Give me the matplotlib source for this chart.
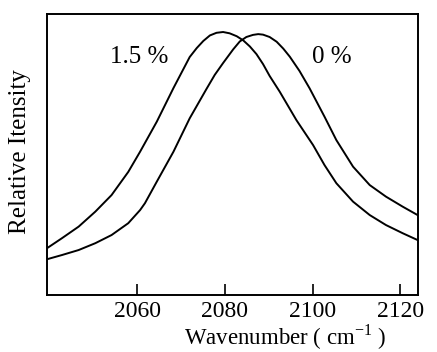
import matplotlib
matplotlib.use("Agg")
import matplotlib.pyplot as plt

# values (intensity in arbitrary units, 1.5 % peak = 1)
wn_15 = [2039.5, 2042.9, 2046.7, 2050.5, 2054.2, 2058.0, 2060.7, 2064.5, 2068.3,
         2072.0, 2073.6, 2075.1, 2076.6, 2078.1, 2079.6, 2081.1, 2082.7, 2084.2,
         2085.7, 2087.2, 2088.7, 2090.2, 2092.5, 2096.3, 2100.1, 2102.7, 2105.4,
         2109.2, 2113.0, 2116.7, 2120.5, 2123.9]
int_15 = [0.178, 0.216, 0.260, 0.317, 0.380, 0.468, 0.545, 0.659, 0.787,
          0.905, 0.939, 0.966, 0.987, 0.997, 1.000, 0.995, 0.984, 0.968,
          0.945, 0.916, 0.878, 0.833, 0.773, 0.665, 0.570, 0.494, 0.425,
          0.355, 0.304, 0.266, 0.235, 0.209]

wn_0 = [2039.5, 2042.9, 2046.7, 2050.5, 2054.2, 2058.0, 2060.7, 2061.8, 2064.5,
        2068.3, 2072.0, 2075.8, 2077.7, 2079.6, 2081.9, 2083.4, 2084.9, 2086.4,
        2087.6, 2088.7, 2090.2, 2091.8, 2093.3, 2094.8, 2097.0, 2099.3, 2102.7,
        2105.4, 2109.2, 2113.0, 2116.7, 2120.5, 2123.9]
int_0 = [0.136, 0.152, 0.171, 0.197, 0.228, 0.273, 0.323, 0.349, 0.431,
         0.545, 0.672, 0.783, 0.837, 0.882, 0.934, 0.964, 0.981, 0.989,
         0.992, 0.990, 0.981, 0.963, 0.937, 0.906, 0.852, 0.786, 0.678,
         0.589, 0.488, 0.418, 0.374, 0.336, 0.304]

xticks = [2060, 2080, 2100, 2120]

plt.rcParams["font.family"] = ["Liberation Serif", "DejaVu Serif"]
plt.rcParams["mathtext.fontset"] = "custom"
plt.rcParams["mathtext.rm"] = "Liberation Serif"

fig = plt.figure(figsize=(4.37, 3.52), dpi=100)
ax = fig.add_axes([0.1076, 0.1619, 0.8490, 0.7983])

ax.plot(wn_15, int_15, color="black", lw=1.4, solid_joinstyle="round")
ax.plot(wn_0, int_0, color="black", lw=1.4, solid_joinstyle="round")

ax.text(2053.9, 0.882, "1.5 %", fontsize=18)
ax.text(2099.8, 0.882, "0 %", fontsize=18)

ax.set_xlim(2039.5, 2124)
ax.set_ylim(0, 281 / 263)
ax.set_xticks(xticks)
ax.set_yticks([])
ax.tick_params(axis="x", direction="in", length=8, width=1.2, labelsize=17, pad=4)
for s in ax.spines.values():
    s.set_linewidth(1.4)

ax.set_xlabel(r"Wavenumber ( cm$^{\mathrm{-1}}$ )", fontsize=16.5)
ax.xaxis.set_label_coords(0.641, -0.098)
ax.set_ylabel("Relative Itensity", fontsize=18)
ax.yaxis.set_label_coords(-0.043, 0.512)

fig.savefig("out.png", dpi=100)
